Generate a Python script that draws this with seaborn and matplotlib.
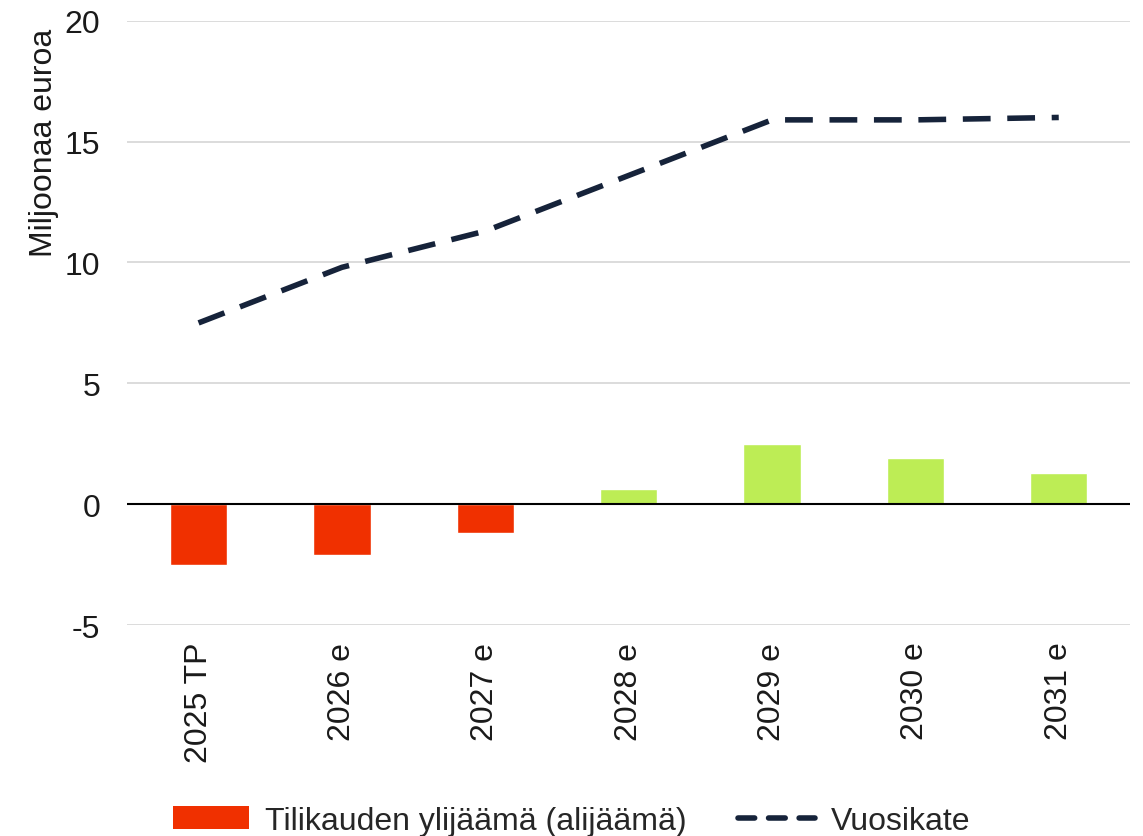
import matplotlib
matplotlib.use("Agg")
import matplotlib.pyplot as plt
import pandas as pd
import seaborn as sns
import numpy as np
from matplotlib.patches import Patch
from matplotlib.lines import Line2D

years = ["2025 TP", "2026 e", "2027 e", "2028 e", "2029 e", "2030 e", "2031 e"]
tulos = [-2.5, -2.1, -1.2, 0.65, 2.5, 1.9, 1.3]
vuosikate = [7.5, 9.8, 11.3, 13.6, 15.9, 15.9, 16.0]

red = "#F03000"
green = "#BDED55"
navy = "#16233A"

sns.set_theme(style="white")
plt.rcParams["font.family"] = ["Liberation Sans", "DejaVu Sans"]
plt.rcParams["axes.unicode_minus"] = False

df = pd.DataFrame({"year": years, "tulos": tulos, "vuosikate": vuosikate})
df["pos"] = np.arange(len(df))
colors = [red if v < 0 else green for v in tulos]

fig = plt.figure(figsize=(11.43, 8.37), dpi=100)
ax = fig.add_axes([0.111, 0.252, 0.878, 0.722])

ax.yaxis.grid(True, color="#D9D9D9", linewidth=1.3)
ax.set_axisbelow(True)

sns.barplot(data=df, x="year", y="tulos", hue="year", palette=colors,
            saturation=1, width=0.4, legend=False, ax=ax, zorder=2)
sns.lineplot(data=df, x="pos", y="vuosikate", color=navy, linewidth=4,
             ax=ax, zorder=3)
ax.lines[-1].set_dashes([5, 3])
ax.axhline(0, color="black", linewidth=1.5, zorder=4)

ax.set_xlim(-0.5, 6.5)
ax.set_ylim(-5, 20)
ax.set_yticks([-5, 0, 5, 10, 15, 20])
ax.set_xticks(range(len(years)))
ax.set_xticklabels(years, rotation=90, fontsize=23, color="#1a1a1a")
ax.tick_params(axis="y", labelsize=23, colors="#1a1a1a", pad=13)
ax.tick_params(axis="x", pad=6)
ax.set_xlabel("")
ax.set_ylabel("Miljoonaa euroa", fontsize=23, color="#1a1a1a")
ax.yaxis.set_label_coords(-0.068, 0.80)
sns.despine(ax=ax, left=True, bottom=True)

handles = [Patch(facecolor=red, edgecolor="none"),
           Line2D([0], [0], color=navy, linewidth=4, dashes=[3, 2.5],
                  dash_capstyle="round")]
fig.legend(handles, ["Tilikauden ylijäämä (alijäämä)", "Vuosikate"],
           loc="lower center", bbox_to_anchor=(0.5, -0.034), ncol=2,
           frameon=False, fontsize=23, handlelength=2.4, columnspacing=1.6,
           handletextpad=0.5)

fig.savefig("out.png", dpi=100)
